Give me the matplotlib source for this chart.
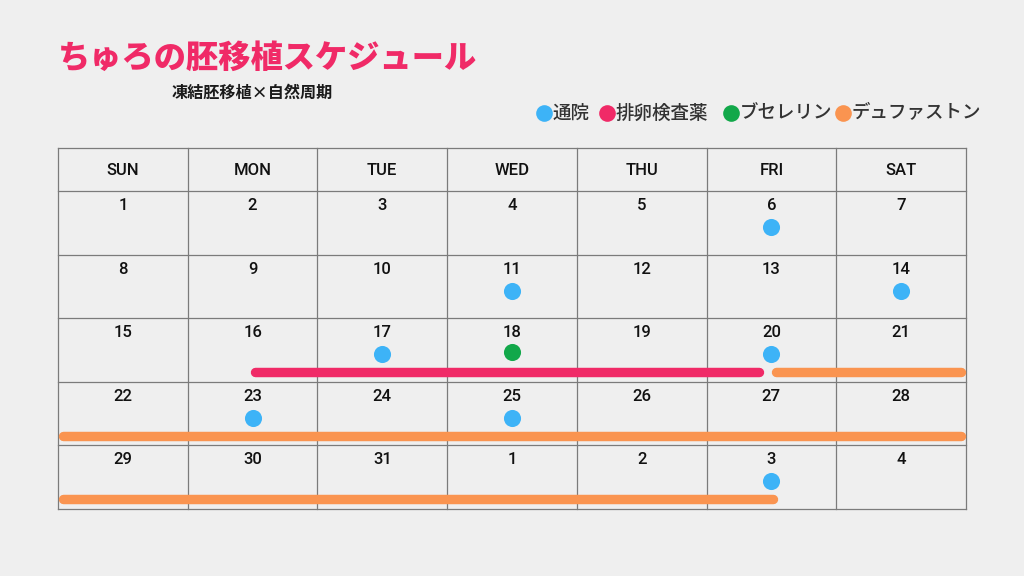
import matplotlib
matplotlib.use("Agg")
import matplotlib.pyplot as plt

# ---- data ----
title = "ちゅろの胚移植スケジュール"
subtitle = "凍結胚移植×自然周期"
weekdays = ["SUN", "MON", "TUE", "WED", "THU", "FRI", "SAT"]
day_labels = ["1", "2", "3", "4", "5", "6", "7",
              "8", "9", "10", "11", "12", "13", "14",
              "15", "16", "17", "18", "19", "20", "21",
              "22", "23", "24", "25", "26", "27", "28",
              "29", "30", "31", "1", "2", "3", "4"]
legend_labels = ["通院", "排卵検査薬", "ブセレリン", "デュファストン"]
colors = ["#3db3f7", "#f02a67", "#12a84a", "#fa9450"]
visit_cells = [5, 10, 13, 16, 19, 22, 24, 33]      # 通院 (blue dots)
buserelin_cells = [17]                               # ブセレリン (green dot)
ovulation_span = (15, 19)                            # 排卵検査薬 (pink bar)
duphaston_span = (19, 33)                            # デュファストン (orange bar)

# ---- layout ----
W, H = 1024, 576
left, right = 58, 966
top, head_bottom, bottom = 148, 191, 509
ncols, nrows = 7, 5
cw = (right - left) / ncols
rh = (bottom - head_bottom) / nrows
bg = "#efefef"
gridc = "#7b7b7b"

fig = plt.figure(figsize=(W / 100, H / 100), dpi=100, facecolor=bg)
ax = fig.add_axes([0, 0, 1, 1])
ax.set_xlim(0, W)
ax.set_ylim(H, 0)
ax.axis("off")
ax.set_facecolor(bg)

jp = ["Noto Sans CJK JP", "DejaVu Sans"]
num_font = ["Roboto", "DejaVu Sans"]

# title
ax.text(left, 58, title, fontsize=23.2, fontweight="heavy", color=colors[1],
        family=jp, ha="left", va="center")
ax.text(172, 93, subtitle, fontsize=11.6, fontweight="bold", color="#1a1a1a",
        family=jp, ha="left", va="center")

# legend
leg_x = [544, 607, 731, 843]
for lx, lab, c in zip(leg_x, legend_labels, colors):
    ax.plot(lx, 113, "o", ms=12, color=c, mec="none")
    ax.text(lx + 9, 113, lab, fontsize=13.3, fontweight="medium", color="#333333",
            family=jp, ha="left", va="center")

# grid
for i in range(ncols + 1):
    x = left + i * cw
    ax.plot([x, x], [top, bottom], color=gridc, lw=0.9, zorder=1)
ax.plot([left, right], [top, top], color=gridc, lw=0.9, zorder=1)
for j in range(nrows + 1):
    y = head_bottom + j * rh
    ax.plot([left, right], [y, y], color=gridc, lw=0.9, zorder=1)

# header
for i, wd in enumerate(weekdays):
    ax.text(left + (i + 0.5) * cw, (top + head_bottom) / 2 + 1, wd, fontsize=12,
            fontweight="medium", family=num_font, ha="center", va="center", color="#111111")

def cell_xy(idx):
    r, c = divmod(idx, ncols)
    return left + (c + 0.5) * cw, head_bottom + r * rh

# day numbers
for idx, lab in enumerate(day_labels):
    x, y = cell_xy(idx)
    ax.text(x, y + 14.5, lab, fontsize=12, fontweight="medium", family=num_font,
            ha="center", va="center", color="#111111")

# dots
for idx in visit_cells:
    x, y = cell_xy(idx)
    ax.plot(x, y + 36, "o", ms=12.3, color=colors[0], mec="none", zorder=4)
for idx in buserelin_cells:
    x, y = cell_xy(idx)
    ax.plot(x, y + 34, "o", ms=12.3, color=colors[2], mec="none", zorder=4)

# bars
def draw_span(span, color, lw, gap_start=0, gap_end=0):
    s, e = span
    rs, re_ = s // ncols, e // ncols
    for r in range(rs, re_ + 1):
        y = head_bottom + r * rh + 54
        cap = lw * 100 / 72 / 2
        if r == rs:
            x0 = cell_xy(s)[0] + gap_start + cap
        else:
            x0 = left + cap
        if r == re_:
            x1 = cell_xy(e)[0] - gap_end - cap
        else:
            x1 = right - cap
        ax.plot([x0, x1], [y, y], color=color, lw=lw, solid_capstyle="round", zorder=3)

draw_span(ovulation_span, colors[1], 6.8, gap_start=-2, gap_end=8)
draw_span(duphaston_span, colors[3], 6.8, gap_start=0, gap_end=-6)

fig.savefig("out.png", dpi=100, facecolor=bg)
